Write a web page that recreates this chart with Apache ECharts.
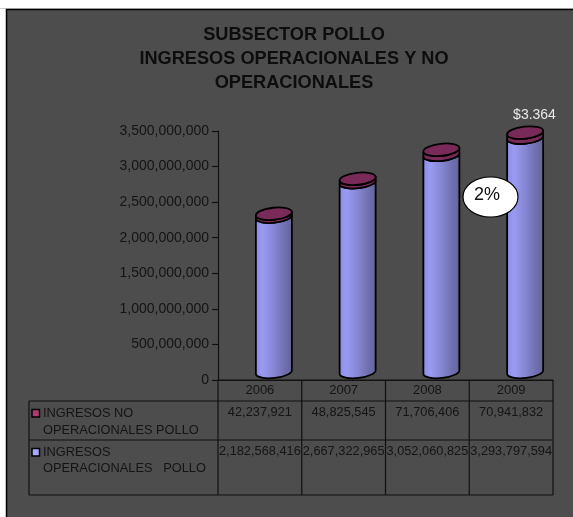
<!DOCTYPE html>
<html><head><meta charset="utf-8">
<style>html,body{margin:0;padding:0;background:#fff}#c{width:573px;height:517px}</style>
<script src="https://cdn.jsdelivr.net/npm/echarts@6/dist/echarts.min.js"></script>
</head><body><div id="c"></div>
<script>
const categories = ['2006','2007','2008','2009'];
const noOperacionales = [42237921,48825545,71706406,70941832];
const operacionales = [2182568416,2667322965,3052060825,3293797594];
const noOpLabels = ['42,237,921','48,825,545','71,706,406','70,941,832'];
const opLabels = ['2,182,568,416','2,667,322,965','3,052,060,825','3,293,797,594'];
const titleLines = 'SUBSECTOR POLLO\nINGRESOS OPERACIONALES Y NO\nOPERACIONALES';
const seriesNoOp = ['INGRESOS NO','OPERACIONALES POLLO'];
const seriesOp = ['INGRESOS','OPERACIONALES   POLLO'];
const FONT = '"Liberation Sans", Arial, sans-serif';
const INK = '#141414';

const chart = echarts.init(document.getElementById('c'), null, {renderer:'canvas'});

const DX = 14, DY = -8, RX = 18, RY = 6, ROT = -6, TILT = 2;
function cylPath(cx, yBot, yTop){
  const l = cx-RX, r = cx+RX;
  return `M${l} ${yTop+TILT}L${l} ${yBot+TILT}A${RX} ${RY} ${ROT} 0 0 ${r} ${yBot-TILT}L${r} ${yTop-TILT}A${RX} ${RY} ${ROT} 0 1 ${l} ${yTop+TILT}Z`;
}
function discPath(cx, y){
  const l = cx-RX, r = cx+RX;
  return `M${l} ${y+TILT}A${RX} ${RY} ${ROT} 0 1 ${r} ${y-TILT}A${RX} ${RY} ${ROT} 0 1 ${l} ${y+TILT}Z`;
}
const bodyFill = new echarts.graphic.LinearGradient(0,0,1,0,[
  {offset:0,color:'#8a8ae4'},{offset:.2,color:'#9a9af2'},{offset:.5,color:'#8686d4'},
  {offset:.75,color:'#7272b4'},{offset:1,color:'#636398'}]);
const stroke = {stroke:'#000',lineWidth:1.8,lineJoin:'round'};

function renderCyl(params, api){
  const i = api.value(0);
  const a = api.value(1), b = api.value(2);
  const base = api.coord([i,0]);
  const p1 = api.coord([i,a]);
  const p2 = api.coord([i,a+b]);
  const cx = base[0]+DX;
  const yB = base[1]+DY, y1 = p1[1]+DY, y2 = p2[1]+DY;
  return {type:'group',children:[
    {type:'path',shape:{pathData:cylPath(cx,yB,y1)},style:{fill:bodyFill,...stroke}},
    {type:'path',shape:{pathData:cylPath(cx,y1,y2)},style:{fill:'#7a2a58',...stroke}},
    {type:'path',shape:{pathData:discPath(cx,y2)},style:{fill:'#7a2a58',...stroke}}
  ]};
}

// table
const TL=29, T0=218, COLW=83.75, Ty=[380,401,440,495];
const colX = categories.map((_,i)=>T0+COLW*i).concat(T0+COLW*4);
const tbl = [];
const line=(x1,y1,x2,y2)=>({type:'line',shape:{x1,y1,x2,y2},style:{stroke:'#111',lineWidth:1.2},silent:true});
const txt=(x,y,t,align)=>({type:'text',x,y,style:{text:t,fill:INK,font:'12.8px '+FONT,align:align||'center',verticalAlign:'middle'},silent:true});
tbl.push(line(T0,Ty[0],colX[4],Ty[0]));
tbl.push(line(TL,Ty[1],colX[4],Ty[1]));
tbl.push(line(TL,Ty[2],colX[4],Ty[2]));
tbl.push(line(TL,Ty[3],colX[4],Ty[3]));
tbl.push(line(TL,Ty[1],TL,Ty[3]));
colX.forEach(x=>tbl.push(line(x,Ty[0],x,Ty[3])));
categories.forEach((_,i)=>{
  const c=(colX[i]+colX[i+1])/2;
  tbl.push(txt(c,412,noOpLabels[i]));
  tbl.push(txt(c,451,opLabels[i]));
});
tbl.push({type:'rect',shape:{x:32,y:409.5,width:7.5,height:7.5},style:{fill:'#b03a70',stroke:'#000',lineWidth:1.5},silent:true});
tbl.push({type:'rect',shape:{x:32,y:448.5,width:7.5,height:7.5},style:{fill:'#a8a8ff',stroke:'#000',lineWidth:1.5},silent:true});
tbl.push(txt(43,413,seriesNoOp[0],'left'));
tbl.push(txt(43,430,seriesNoOp[1],'left'));
tbl.push(txt(43,452,seriesOp[0],'left'));
tbl.push(txt(43,468,seriesOp[1],'left'));

chart.setOption({
  animation:false,
  backgroundColor:'#fff',
  graphic:[
    {type:'rect',z:-11,shape:{x:0,y:8,width:573,height:1},style:{fill:'#cfcfcf'},silent:true},
    {type:'rect',z:-10,shape:{x:6.5,y:9.5,width:575,height:520},style:{fill:'#4d4d4d',stroke:'#000',lineWidth:1.5},silent:true},
    ...tbl,
    {type:'text',x:294,y:59,z:5,style:{text:titleLines,fill:'#0d0d0d',font:'bold 18.2px '+FONT,align:'center',verticalAlign:'middle',lineHeight:24},silent:true},
    {type:'ellipse',z:20,shape:{cx:490.5,cy:197,rx:27.5,ry:20},style:{fill:'#fff',stroke:'#000',lineWidth:1.2},silent:true},
    {type:'text',x:487,y:195,z:21,style:{text:'2%',fill:'#111',font:'18px '+FONT,align:'center',verticalAlign:'middle'},silent:true},
    {type:'text',x:534.5,y:115,z:21,style:{text:'$3.364',fill:'#e8e8e8',font:'14px '+FONT,align:'center',verticalAlign:'middle'},silent:true}
  ],
  grid:{left:218,top:131,width:335,height:249,containLabel:false},
  xAxis:{type:'category',data:categories,axisLine:{show:true,lineStyle:{color:'#111',width:1.2}},axisTick:{show:false},
    axisLabel:{color:INK,fontSize:13,fontFamily:FONT,margin:4}},
  yAxis:{type:'value',min:0,max:3500000000,interval:500000000,
    axisLine:{show:true,lineStyle:{color:'#111',width:1.2}},
    axisTick:{show:true,length:6,lineStyle:{color:'#111',width:1.2}},
    splitLine:{show:false},
    axisLabel:{color:INK,fontSize:14,fontFamily:FONT,margin:9,formatter:v=>v.toLocaleString('en-US')}},
  series:[{
    type:'custom',clip:false,renderItem:renderCyl,
    encode:{x:0,y:1},
    data:categories.map((_,i)=>[i,operacionales[i],noOperacionales[i]])
  }]
});
</script></body></html>
